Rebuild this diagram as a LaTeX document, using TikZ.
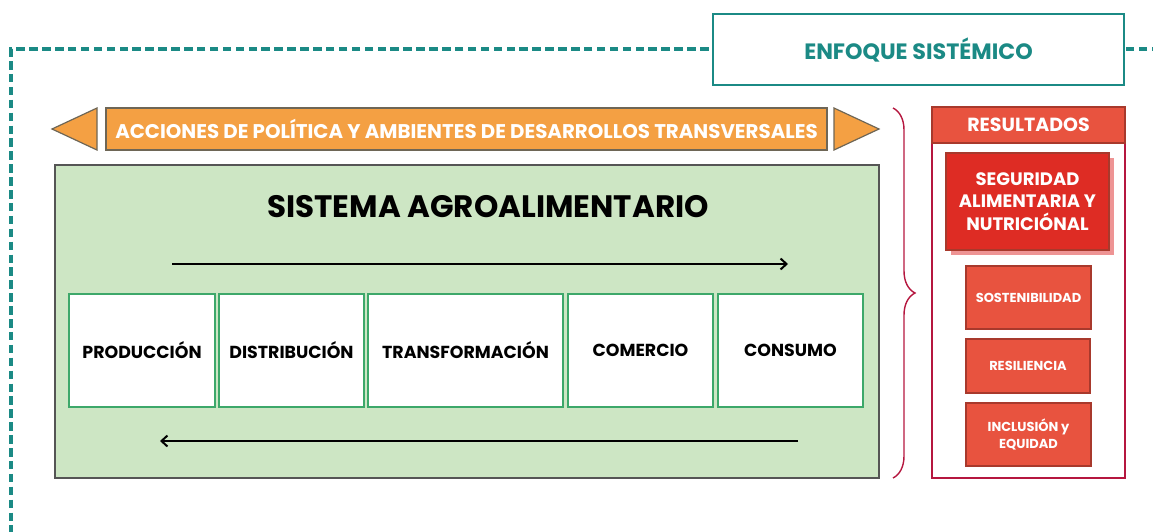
\documentclass[tikz,border=0pt]{standalone}
\usepackage{fontspec}
\setmainfont{Poppins}
\usetikzlibrary{arrows.meta,decorations.pathreplacing}
\definecolor{tealc}{HTML}{1B8A85}
\definecolor{orangec}{HTML}{F4A043}
\definecolor{orangeb}{HTML}{6E6656}
\definecolor{greenf}{HTML}{CDE6C4}
\definecolor{greenb}{HTML}{3DA86A}
\definecolor{grayb}{HTML}{555555}
\definecolor{darkred}{HTML}{B5173F}
\definecolor{redh}{HTML}{E8533F}
\definecolor{redb}{HTML}{A8392C}
\definecolor{reds}{HTML}{DE2C24}
\definecolor{shadowc}{HTML}{EE9494}
\tikzset{
  frame/.style={draw=tealc, line width=3.2pt, dash pattern=on 8.5pt off 4.4pt},
  enfbox/.style={draw=tealc, fill=white, line width=2.5pt, text=tealc, font=\bfseries\fontsize{22.2}{26}\selectfont},
  banner/.style={draw=orangeb, fill=orangec, line width=1.2pt, text=white, font=\bfseries\fontsize{19.8}{22}\selectfont},
  tri/.style={draw=orangeb, fill=orangec, line width=1.2pt},
  sysbox/.style={draw=grayb, fill=greenf, line width=1.2pt},
  stage/.style={draw=greenb, fill=white, line width=2.2pt, font=\bfseries\fontsize{17.4}{20}\selectfont},
  flow/.style={line width=2.2pt, -{Straight Barb[length=6pt,width=11pt,line width=2pt]}},
  resbox/.style={draw=darkred, fill=white, line width=2.4pt},
  reshead/.style={draw=redb, fill=redh, line width=1.2pt, text=white, font=\bfseries\fontsize{19}{22}\selectfont},
  segbox/.style={draw=redb, fill=reds, line width=1.2pt, text=white, align=center, font=\bfseries\fontsize{18}{22.5}\selectfont},
  outbox/.style={draw=redb, fill=redh, line width=1.5pt, text=white, align=center, font=\bfseries\fontsize{13}{17}\selectfont},
}
\begin{document}
\begin{tikzpicture}[x=1pt,y=-1pt]
\useasboundingbox (0,0) rectangle (1153,531);
% dashed frame
\draw[frame] (1160,49) -- (11,49) -- (11,546) -- (1160,546);
\node[enfbox, minimum width=411pt, minimum height=71pt] (enf) at (918.5,49.5) {ENFOQUE SISTÉMICO};
% banner
\draw[tri] (97,108) -- (52,129) -- (97,150) -- cycle;
\draw[tri] (834,108) -- (879,129) -- (834,150) -- cycle;
\node[banner, minimum width=721pt, minimum height=42pt] (ban) at (466.5,129) {ACCIONES DE POLÍTICA Y AMBIENTES DE DESARROLLOS TRANSVERSALES};
% system
\node[sysbox, minimum width=824pt, minimum height=313pt] (sys) at (467,321.5) {};
\node[font=\bfseries\fontsize{31}{34}\selectfont] (title) at (488,207) {SISTEMA AGROALIMENTARIO};
\coordinate (fs) at (172,264);
\coordinate (fe) at (788,264);
\coordinate (bs) at (798,441);
\coordinate (be) at (160,441);
\draw[flow] (fs) -- (fe);
\draw[flow] (bs) -- (be);
\node[stage, minimum width=146pt, minimum height=113pt] (prod) at (142,350.5) {PRODUCCIÓN};
\node[stage, minimum width=145pt, minimum height=113pt] (dist) at (291.5,350.5) {DISTRIBUCIÓN};
\node[stage, minimum width=195pt, minimum height=113pt] (trans) at (465.5,350.5) {TRANSFORMACIÓN};
\node[stage, minimum width=145pt, minimum height=113pt] (com) at (640.5,350.5) {COMERCIO};
\node[stage, minimum width=145pt, minimum height=113pt] (cons) at (790.5,350.5) {CONSUMO};
% brace
\coordinate (bt) at (893,108);
\coordinate (bb) at (893,478);
\draw[darkred, line width=1.4pt, decorate, decoration={brace, amplitude=22pt}] (bt) -- (bb);
% results
\node[resbox, minimum width=193pt, minimum height=371pt] (res) at (1028.5,292.5) {};
\node[reshead, minimum width=193pt, minimum height=36pt] (rh) at (1028.5,125) {RESULTADOS};
\fill[shadowc] (951,158) rectangle (1114,255);
\node[segbox, minimum width=163pt, minimum height=97pt] (seg) at (1027.5,201.5) {SEGURIDAD\\ALIMENTARIA Y\\NUTRICIÓNAL};
\node[outbox, minimum width=125pt, minimum height=63pt] (sost) at (1028.5,297.5) {SOSTENIBILIDAD};
\node[outbox, minimum width=124pt, minimum height=54pt] (resil) at (1028,366) {RESILIENCIA};
\node[outbox, minimum width=125pt, minimum height=63pt] (inc) at (1028.5,434.5) {INCLUSIÓN y\\EQUIDAD};
\end{tikzpicture}
\end{document}
